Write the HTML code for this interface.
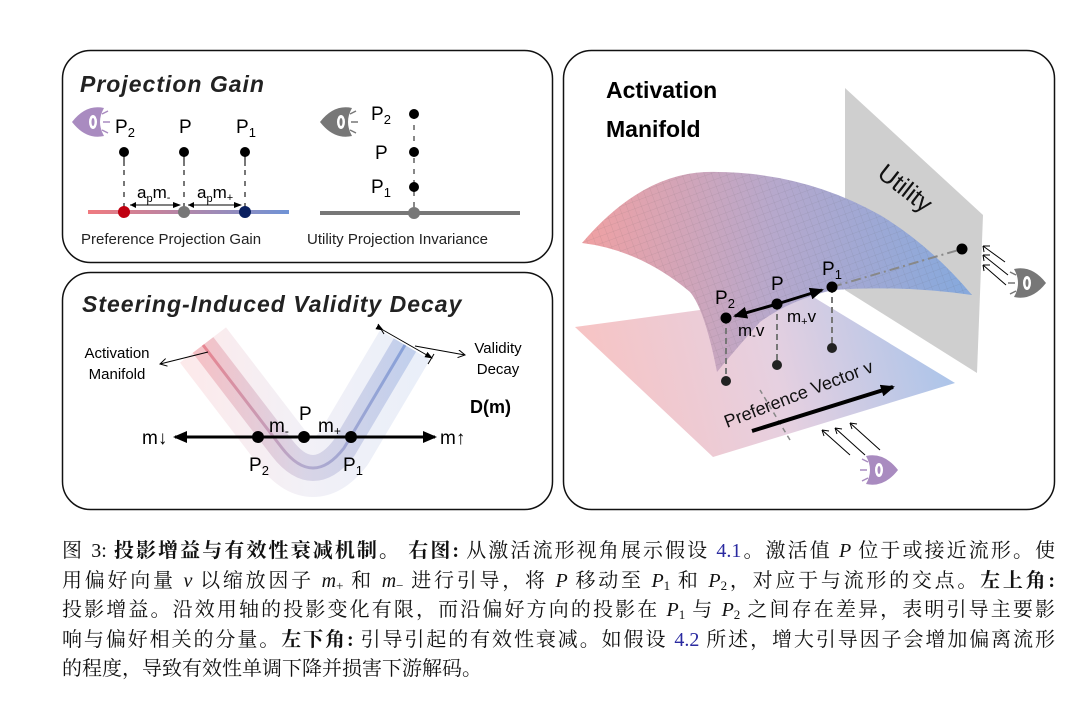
<!DOCTYPE html>
<html><head><meta charset="utf-8"><style>
body{margin:0;background:#fff;width:1076px;height:708px;overflow:hidden;position:relative;font-family:"Liberation Sans","Noto Sans CJK SC",sans-serif}
svg{position:absolute;left:0;top:0}
.cap{position:absolute;left:62px;width:993px;font-family:"Liberation Serif","Noto Serif CJK SC",serif;font-size:20px;line-height:22px;height:22px;color:#111;white-space:nowrap}
.j{text-align:justify;text-align-last:justify}
.cap b{font-weight:bold}
.cap i{font-style:italic}
.cap sub{font-size:13px;line-height:0;vertical-align:-3px}
.bl{color:#2a2aa0}
</style></head><body>
<svg width="1076" height="708" viewBox="0 0 1076 708" font-family="Liberation Sans, sans-serif">
<defs>
<linearGradient id="lg1" x1="88" x2="289" y1="0" y2="0" gradientUnits="userSpaceOnUse"><stop offset="0" stop-color="#f07a7f"/><stop offset="1" stop-color="#6f93d6"/></linearGradient>
<linearGradient id="vg" x1="185" x2="425" y1="0" y2="0" gradientUnits="userSpaceOnUse"><stop offset="0" stop-color="#ef6f77"/><stop offset="0.5" stop-color="#a9a0c8"/><stop offset="1" stop-color="#6f93d6"/></linearGradient>
<linearGradient id="sg" x1="590" y1="250" x2="960" y2="250" gradientUnits="userSpaceOnUse"><stop offset="0" stop-color="#eea1a4"/><stop offset="0.5" stop-color="#b6a8cc"/><stop offset="1" stop-color="#88a9dc"/></linearGradient>
<linearGradient id="bg" x1="600" y1="420" x2="950" y2="330" gradientUnits="userSpaceOnUse"><stop offset="0" stop-color="#f7c4c4"/><stop offset="0.5" stop-color="#e6d0e0"/><stop offset="1" stop-color="#a9c4ea"/></linearGradient>
<pattern id="grid" width="7" height="7" patternUnits="userSpaceOnUse" patternTransform="rotate(-20)"><path d="M0 0H7M0 0V7" stroke="#555" stroke-width="0.4" opacity="0.35"/></pattern>
<marker id="ah" markerWidth="8" markerHeight="8" refX="7" refY="4" orient="auto" markerUnits="userSpaceOnUse"><path d="M0,1 L8,4 L0,7 z" fill="#000"/></marker>
<marker id="ahb" markerWidth="14" markerHeight="12" refX="12" refY="6" orient="auto" markerUnits="userSpaceOnUse"><path d="M0,0 L14,6 L0,12 z" fill="#000"/></marker>
<marker id="ao" markerWidth="8" markerHeight="8" refX="7" refY="4" orient="auto" markerUnits="userSpaceOnUse"><path d="M0,0 L7,4 L0,8" fill="none" stroke="#000" stroke-width="1"/></marker>
</defs>

<!-- Panel 1 -->
<rect x="62.5" y="50.5" width="490" height="212" rx="28" fill="#fff" stroke="#111" stroke-width="1.5"/>
<text x="80" y="92" font-size="23" font-weight="bold" font-style="italic" fill="#222" letter-spacing="1">Projection Gain</text>
<g><path d="M72,122 Q86,104 104,108 Q96,122 104,136 Q86,140 72,122z" fill="#a98bc0"/><ellipse cx="93" cy="122" rx="4" ry="7" fill="#fff"/><ellipse cx="93" cy="122" rx="1.5" ry="4" fill="#a98bc0"/><path d="M102,114 L108,111 M103,122 L110,122 M102,130 L108,133" stroke="#a98bc0" stroke-width="1.5"/></g>
<g font-size="19" fill="#000"><text x="115" y="133">P<tspan font-size="13" dy="4">2</tspan></text><text x="179" y="133">P</text><text x="236" y="133">P<tspan font-size="13" dy="4">1</tspan></text></g>
<g stroke="#777" stroke-width="2"><path d="M124,152V166M184,152V166M245,152V166"/><path d="M124,170V212M184,170V212M245,170V212" stroke-dasharray="5,6"/></g>
<g fill="#000"><circle cx="124" cy="152" r="5"/><circle cx="184" cy="152" r="5"/><circle cx="245" cy="152" r="5"/></g>
<line x1="88" y1="212" x2="289" y2="212" stroke="url(#lg1)" stroke-width="4"/>
<circle cx="124" cy="212" r="6" fill="#c00010"/><circle cx="184" cy="212" r="6" fill="#777"/><circle cx="245" cy="212" r="6" fill="#0a2060"/>
<line x1="130" y1="205" x2="180" y2="205" stroke="#000" marker-end="url(#ah)"/>
<line x1="188" y1="205" x2="241" y2="205" stroke="#000" marker-end="url(#ah)"/>
<path d="M130,205 l6,-3 v6z M188,205 l6,-3 v6z" fill="#000"/>
<g font-size="17" fill="#000"><text x="137" y="198">a<tspan font-size="11" dy="4">p</tspan><tspan dy="-4">m</tspan><tspan font-size="11" dy="3">-</tspan></text><text x="197" y="198">a<tspan font-size="11" dy="4">p</tspan><tspan dy="-4">m</tspan><tspan font-size="11" dy="3">+</tspan></text></g>
<text x="81" y="244" font-size="15" fill="#222">Preference Projection Gain</text>
<text x="307" y="244" font-size="15" fill="#222">Utility Projection Invariance</text>
<g><path d="M320,122 Q334,104 352,108 Q344,122 352,136 Q334,140 320,122z" fill="#777"/><ellipse cx="341" cy="122" rx="4" ry="7" fill="#fff"/><ellipse cx="341" cy="122" rx="1.5" ry="4" fill="#777"/><path d="M350,114 L356,111 M351,122 L358,122 M350,130 L356,133" stroke="#777" stroke-width="1.5"/></g>
<line x1="320" y1="213" x2="520" y2="213" stroke="#777" stroke-width="4"/>
<line x1="414" y1="114" x2="414" y2="213" stroke="#888" stroke-width="2" stroke-dasharray="5,6"/>
<g fill="#000"><circle cx="414" cy="114" r="5"/><circle cx="414" cy="152" r="5"/><circle cx="414" cy="187" r="5"/></g>
<circle cx="414" cy="213" r="6" fill="#777"/>
<g font-size="19" fill="#000"><text x="371" y="120">P<tspan font-size="13" dy="4">2</tspan></text><text x="375" y="159">P</text><text x="371" y="193">P<tspan font-size="13" dy="4">1</tspan></text></g>

<!-- Panel 2 -->
<rect x="62.5" y="272.5" width="490" height="237" rx="28" fill="#fff" stroke="#111" stroke-width="1.5"/>
<text x="82" y="312" font-size="23" font-weight="bold" font-style="italic" fill="#222" letter-spacing="1">Steering-Induced Validity Decay</text>
<g fill="none" stroke="url(#vg)" stroke-linecap="butt" stroke-linejoin="round">
<path d="M203,345 L282,448 Q313,488 344,448 L405,345" stroke-width="58" opacity="0.15"/>
<path d="M203,345 L282,448 Q313,488 344,448 L405,345" stroke-width="26" opacity="0.35"/>
<path d="M203,345 L282,448 Q313,488 344,448 L405,345" stroke-width="3" opacity="0.8"/>
</g>
<line x1="258" y1="437" x2="175" y2="437" stroke="#000" stroke-width="3" marker-end="url(#ahb)"/>
<line x1="258" y1="437" x2="435" y2="437" stroke="#000" stroke-width="3" marker-end="url(#ahb)"/>
<g fill="#000"><circle cx="258" cy="437" r="6"/><circle cx="304" cy="437" r="6"/><circle cx="351" cy="437" r="6"/></g>
<g font-size="19" fill="#000"><text x="142" y="444">m↓</text><text x="440" y="444">m↑</text><text x="299" y="420">P</text><text x="269" y="432">m<tspan font-size="12" dy="3">-</tspan></text><text x="318" y="432">m<tspan font-size="12" dy="3">+</tspan></text><text x="249" y="471">P<tspan font-size="13" dy="4">2</tspan></text><text x="343" y="471">P<tspan font-size="13" dy="4">1</tspan></text></g>
<g font-size="15" fill="#000" text-anchor="middle"><text x="117" y="358">Activation</text><text x="117" y="379">Manifold</text><text x="498" y="353">Validity</text><text x="498" y="374">Decay</text></g>
<text x="470" y="413" font-size="18" font-weight="bold">D(m)</text>
<line x1="208" y1="352" x2="160" y2="364" stroke="#000" marker-end="url(#ao)"/>
<line x1="383" y1="330" x2="432" y2="358" stroke="#000" marker-end="url(#ah)" marker-start="url(#ah)"/>
<path d="M378,324 L384,334 M428,364 L434,354" stroke="#000"/>
<line x1="415" y1="346" x2="465" y2="355" stroke="#000" marker-end="url(#ao)"/>

<!-- Panel 3 -->
<rect x="563.5" y="50.5" width="491" height="459" rx="28" fill="#fff" stroke="#111" stroke-width="1.5"/>
<text x="606" y="98" font-size="23" font-weight="bold" fill="#000">Activation</text>
<text x="606" y="137" font-size="23" font-weight="bold" fill="#000">Manifold</text>
<polygon points="845,88 983,215 977,373 845,290" fill="#cfcfcf"/>
<polygon points="575,327 713,457 955,383 810,295" fill="url(#bg)"/>
<line x1="790" y1="440" x2="760" y2="390" stroke="#888" stroke-width="1.5" stroke-dasharray="5,4"/>
<path d="M582,243 Q640,175 705,172 Q800,170 880,215 Q930,245 972,295 Q900,285 833,290 Q790,300 760,322 Q735,350 717,372 Q705,310 690,292 Q640,250 582,243z" fill="url(#sg)"/>
<path d="M582,243 Q640,175 705,172 Q800,170 880,215 Q930,245 972,295 Q900,285 833,290 Q790,300 760,322 Q735,350 717,372 Q705,310 690,292 Q640,250 582,243z" fill="url(#grid)"/>
<line x1="832" y1="287" x2="962" y2="249" stroke="#888" stroke-width="2" stroke-dasharray="10,4,2,4"/>
<g stroke="#777" stroke-width="2" stroke-dasharray="6,4"><line x1="726" y1="318" x2="726" y2="381"/><line x1="777" y1="304" x2="777" y2="365"/><line x1="832" y1="287" x2="832" y2="348"/></g>
<g fill="#222"><circle cx="726" cy="381" r="5"/><circle cx="777" cy="365" r="5"/><circle cx="832" cy="348" r="5"/></g>
<line x1="777" y1="304" x2="735" y2="316" stroke="#000" stroke-width="3" marker-end="url(#ahb)"/>
<line x1="777" y1="304" x2="822" y2="290" stroke="#000" stroke-width="3" marker-end="url(#ahb)"/>
<g fill="#000"><circle cx="726" cy="318" r="5.5"/><circle cx="777" cy="304" r="5.5"/><circle cx="832" cy="287" r="5.5"/><circle cx="962" cy="249" r="5.5"/></g>
<g font-size="19" fill="#000"><text x="715" y="304">P<tspan font-size="13" dy="4">2</tspan></text><text x="771" y="290">P</text><text x="822" y="275">P<tspan font-size="13" dy="4">1</tspan></text><text x="738" y="336" font-size="17">m<tspan font-size="11" dy="3">-</tspan><tspan dy="-3">v</tspan></text><text x="787" y="322" font-size="17">m<tspan font-size="11" dy="3">+</tspan><tspan dy="-3">v</tspan></text></g>
<text x="876" y="176" font-size="25" fill="#111" transform="rotate(38 876 176)">Utility</text>
<text x="727" y="428" font-size="18" fill="#111" transform="rotate(-21 727 428)">Preference Vector v</text>
<line x1="752" y1="431" x2="893" y2="387" stroke="#000" stroke-width="4" marker-end="url(#ahb)"/>
<g stroke="#000" stroke-width="1" fill="none"><path d="M850,455 L822,430 M865,455 L835,428 M880,450 L850,423"/><path d="M822,430 l7,1 M822,430 l2,6 M835,428 l7,1 M835,428 l2,6 M850,423 l7,1 M850,423 l2,6"/></g>
<g transform="translate(880,470) scale(-1,1)"><path d="M-18,0 Q-4,-18 14,-14 Q6,0 14,14 Q-4,18 -18,0z" fill="#a98bc0"/><ellipse cx="1" cy="0" rx="4" ry="7" fill="#fff"/><ellipse cx="1" cy="0" rx="1.5" ry="4" fill="#a98bc0"/><path d="M12,-8 L18,-11 M13,0 L20,0 M12,8 L18,11" stroke="#a98bc0" stroke-width="1.5"/></g>
<g stroke="#000" stroke-width="1" fill="none"><path d="M1005,262 L983,246 M1008,275 L983,255 M1006,285 L983,265"/><path d="M983,246 l7,0 M983,246 l1,6 M983,255 l7,0 M983,255 l1,6 M983,265 l7,0 M983,265 l1,6"/></g>
<g transform="translate(1028,283) scale(-1,1)"><path d="M-18,0 Q-4,-18 14,-14 Q6,0 14,14 Q-4,18 -18,0z" fill="#777"/><ellipse cx="1" cy="0" rx="4" ry="7" fill="#fff"/><ellipse cx="1" cy="0" rx="1.5" ry="4" fill="#777"/><path d="M12,-8 L18,-11 M13,0 L20,0 M12,8 L18,11" stroke="#777" stroke-width="1.5"/></g>
</svg>

<div class="cap j" style="top:540px">图 3: <b>投影增益与有效性衰减机制。</b> <b>右图:</b> 从激活流形视角展示假设 <span class="bl">4.1</span>。激活值 <i>P</i> 位于或接近流形。使</div>
<div class="cap j" style="top:570px">用偏好向量 <i>v</i> 以缩放因子 <i>m</i><sub>+</sub> 和 <i>m</i><sub>−</sub> 进行引导，将 <i>P</i> 移动至 <i>P</i><sub>1</sub> 和 <i>P</i><sub>2</sub>，对应于与流形的交点。<b>左上角:</b></div>
<div class="cap j" style="top:599px">投影增益。沿效用轴的投影变化有限，而沿偏好方向的投影在 <i>P</i><sub>1</sub> 与 <i>P</i><sub>2</sub> 之间存在差异，表明引导主要影</div>
<div class="cap j" style="top:629px">响与偏好相关的分量。<b>左下角:</b> 引导引起的有效性衰减。如假设 <span class="bl">4.2</span> 所述，增大引导因子会增加偏离流形</div>
<div class="cap" style="top:658px">的程度，导致有效性单调下降并损害下游解码。</div>
</body></html>
